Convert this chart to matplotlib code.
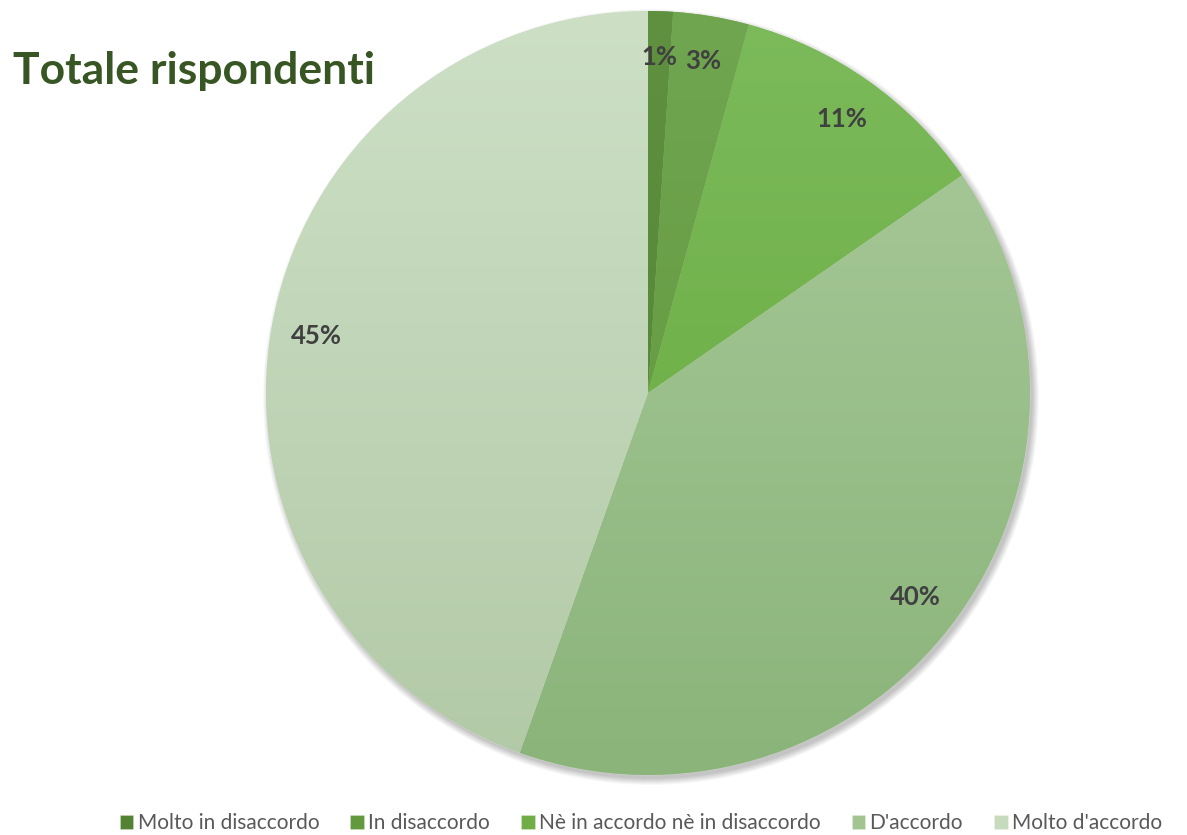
import numpy as np
import matplotlib.pyplot as plt
from matplotlib.colors import LinearSegmentedColormap
from matplotlib.patches import Circle

# Dati
categorie = ["Molto in disaccordo", "In disaccordo", "Nè in accordo nè in disaccordo",
             "D'accordo", "Molto d'accordo"]
valori = [1.05, 3.2, 11.1, 40.1, 44.55]
etichette = ["1%", "3%", "11%", "40%", "45%"]

# Colori (alto, basso) per il gradiente verticale
colori_alto = ["#5f9140", "#71a651", "#7cba5b", "#abcb9c", "#cde0c6"]
colori_basso = ["#4f7f30", "#5d9438", "#66a93a", "#8ab47a", "#b2c9a6"]
colori_legenda = ["#548235", "#63993d", "#70ad47", "#a2c490", "#c5dbbb"]

fig = plt.figure(figsize=(11.87, 8.35), dpi=100)
ax = fig.add_axes([0, 0, 1, 1])

cx, cy, r = 648, 442, 382

# Ombra morbida
for k in range(12):
    ax.add_patch(Circle((cx + 3, cy - 4), r + 6 - k * 0.6, color='black',
                        alpha=0.018, lw=0, zorder=0))

wedges, texts, autotexts = ax.pie(
    valori, center=(cx, cy), radius=r, startangle=90, counterclock=False,
    colors=colori_legenda, autopct='%1.0f%%', pctdistance=0.88,
    wedgeprops=dict(linewidth=0.6, edgecolor='#ffffff40'),
    textprops=dict(fontsize=18.5, fontweight='bold', color='#404040', family='Lato'))

for t, lab in zip(autotexts, etichette):
    t.set_text(lab)
    t.set_zorder(5)

# Gradiente dentro ogni spicchio
grad = np.linspace(0, 1, 256).reshape(-1, 1)
for w, ca, cb in zip(wedges, colori_alto, colori_basso):
    cmap = LinearSegmentedColormap.from_list('g', [cb, ca])
    im = ax.imshow(grad, cmap=cmap, extent=(cx - r, cx + r, cy - r, cy + r),
                   origin='lower', aspect='auto', zorder=2)
    im.set_clip_path(w)
    w.set_zorder(1)

ax.set_xlim(0, 1187)
ax.set_ylim(0, 835)
ax.set_aspect('equal')
ax.axis('off')

# Titolo
ax.text(13, 835 - 84, "Totale rispondenti", fontsize=32, fontweight='bold',
        color='#375623', family='Lato', ha='left', va='baseline')

leg = fig.legend(wedges, categorie, loc='lower center', bbox_to_anchor=(0.54, -0.02),
                 ncol=5, frameon=False, handlelength=0.65,
                 handleheight=0.65, handletextpad=0.2, columnspacing=1.5,
                 prop=dict(family='Lato', size=15))
for t in leg.get_texts():
    t.set_color('#595959')

fig.savefig('out.png', dpi=100)
